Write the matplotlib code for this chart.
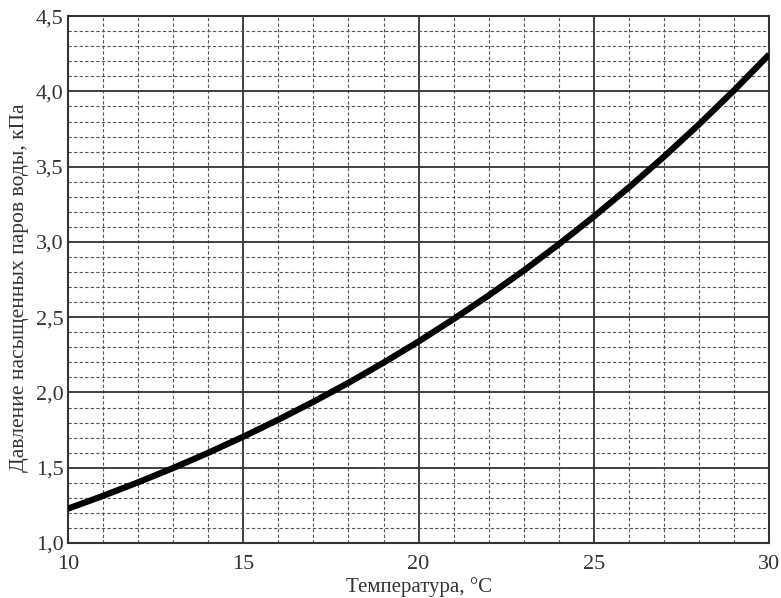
import matplotlib.pyplot as plt
from matplotlib.ticker import MultipleLocator, FuncFormatter

# --- Dati: pressione di vapore saturo ---
temperature = [10, 11, 12, 13, 14, 15, 16, 17, 18, 19, 20,
               21, 22, 23, 24, 25, 26, 27, 28, 29, 30]
pressione = [1.228, 1.313, 1.403, 1.498, 1.599, 1.706, 1.819, 1.938, 2.064, 2.198, 2.339,
             2.488, 2.645, 2.810, 2.985, 3.169, 3.363, 3.567, 3.782, 4.008, 4.246]

x_label = "Температура, °C"
y_label = "Давление насыщенных паров воды, кПа"

plt.rcParams['font.family'] = ['Liberation Serif', 'DejaVu Serif']

fig = plt.figure(figsize=(7.81, 5.98), dpi=100)
ax = fig.add_axes([0.087, 0.092, 0.898, 0.881])

ax.plot(temperature, pressione, color='black', linewidth=4.5, solid_capstyle='butt', zorder=3)

ax.set_xlim(10, 30)
ax.set_ylim(1.0, 4.5)
ax.xaxis.set_major_locator(MultipleLocator(5))
ax.xaxis.set_minor_locator(MultipleLocator(1))
ax.yaxis.set_major_locator(MultipleLocator(0.5))
ax.yaxis.set_minor_locator(MultipleLocator(0.1))
ax.yaxis.set_major_formatter(FuncFormatter(lambda v, p: f"{v:.1f}".replace('.', ',')))

ax.grid(which='major', color='#333333', linewidth=1.3, linestyle='-')
ax.grid(which='minor', color='#555555', linewidth=0.8, linestyle=(0, (3, 2)))
ax.set_axisbelow(True)
ax.tick_params(which='both', length=0, labelsize=16, colors='#333333')
ax.tick_params(axis='x', pad=9)
ax.tick_params(axis='y', pad=3)
for s in ax.spines.values():
    s.set_linewidth(1.5)
    s.set_color('#333333')

ax.set_xlabel(x_label, fontsize=15, color='#333333', labelpad=2)
ax.set_ylabel(y_label, fontsize=15.5, color='#333333')
ax.yaxis.set_label_coords(-0.056, 0.485)

fig.savefig("out.png", dpi=100)
